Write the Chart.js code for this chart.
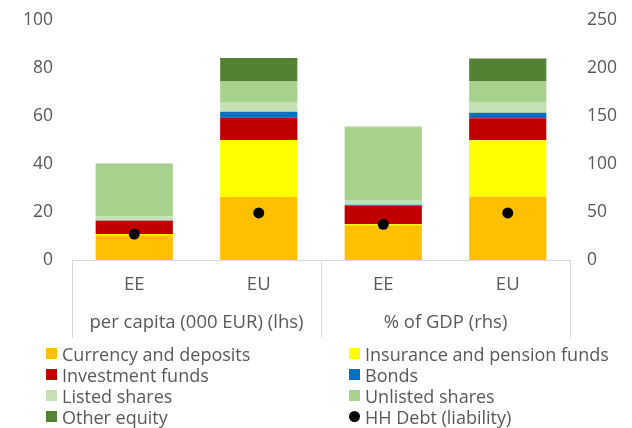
<!DOCTYPE html>
<html>
<head>
<meta charset="utf-8">
<script src="https://cdn.jsdelivr.net/npm/chart.js@4.4.1/dist/chart.umd.min.js"></script>
<style>
  body { margin: 0; background: #fff; }
  #wrap { position: relative; width: 632px; height: 428px; }
  #legend {
    position: absolute; left: 46px; top: 343px;
    display: grid; grid-template-columns: 303px auto;
    font: 18px "Open Sans", sans-serif; color: #595959;
  }
  .item { display: flex; align-items: center; height: 21px; white-space: nowrap; }
  .sw { width: 11px; height: 11px; margin-right: 5px; flex: none; }
  .dot { border-radius: 50%; }
</style>
</head>
<body>
<div id="wrap">
  <canvas id="chart" width="632" height="428"></canvas>
  <div id="legend"></div>
</div>
<script>
// columns: EE, EU (per capita, lhs) then EE, EU (% of GDP, rhs)
const categories = ['EE', 'EU', 'EE', 'EU'];
const groups = ['per capita (000 EUR) (lhs)', '% of GDP (rhs)'];

const currency   = [10.3, 26.2, 36.1, 65.9];
const insurance  = [0.5, 23.8, 1.4, 58.8];
const investment = [5.6, 9.3, 19.1, 22.9];
const bonds      = [0.1, 2.5, 1.0, 5.8];
const listed     = [1.6, 4.0, 4.9, 11.2];
const unlisted   = [21.7, 8.8, 75.7, 21.9];
const otherEq    = [0.3, 9.6, 0.5, 23.5];
const hhDebt     = [10.8, 19.6, 37.2, 49.0];

const leftTicks = [0, 20, 40, 60, 80, 100];
const rightTicks = [0, 50, 100, 150, 200, 250];

const series = [
  { name: 'Currency and deposits', data: currency, color: '#FFC000' },
  { name: 'Insurance and pension funds', data: insurance, color: '#FFFF00' },
  { name: 'Investment funds', data: investment, color: '#C00000' },
  { name: 'Bonds', data: bonds, color: '#0070C0' },
  { name: 'Listed shares', data: listed, color: '#C5E0B4' },
  { name: 'Unlisted shares', data: unlisted, color: '#A9D18E' },
  { name: 'Other equity', data: otherEq, color: '#548235' }
];

const FONT = '"Open Sans", sans-serif';
const TEXT = '#595959';

// lhs values go on y, rhs values on y2
function half(arr, side) {
  return arr.map((v, i) => (side === 'lhs' ? (i < 2 ? v : null) : (i >= 2 ? v : null)));
}

const datasets = [];
['lhs', 'rhs'].forEach(side => {
  series.forEach(s => {
    datasets.push({
      type: 'bar',
      label: s.name,
      data: half(s.data, side),
      backgroundColor: s.color,
      borderWidth: 0,
      stack: 'assets',
      yAxisID: side === 'lhs' ? 'y' : 'y2',
      order: 2
    });
  });
  datasets.push({
    type: 'line',
    label: 'HH Debt (liability)',
    data: half(hhDebt, side),
    showLine: false,
    pointRadius: 5.5,
    pointHoverRadius: 5.5,
    pointBackgroundColor: '#000',
    pointBorderWidth: 0,
    stack: 'debt',
    yAxisID: side === 'lhs' ? 'y' : 'y2',
    order: 1
  });
});

// two-level category axis drawn under the plot
const groupAxis = {
  id: 'groupAxis',
  afterDraw(chart) {
    const { ctx, chartArea, scales: { x } } = chart;
    const b = chartArea.bottom;
    ctx.save();
    ctx.strokeStyle = '#d9d9d9';
    ctx.lineWidth = 1;
    ctx.beginPath();
    ctx.moveTo(chartArea.left, b + 0.5);
    ctx.lineTo(chartArea.right, b + 0.5);
    const mid = (x.getPixelForValue(1) + x.getPixelForValue(2)) / 2;
    [chartArea.left, mid, chartArea.right].forEach(px => {
      ctx.moveTo(Math.round(px) + 0.5, b);
      ctx.lineTo(Math.round(px) + 0.5, b + 78);
    });
    ctx.stroke();

    ctx.fillStyle = TEXT;
    ctx.font = '18.5px ' + FONT;
    ctx.textAlign = 'center';
    ctx.textBaseline = 'middle';
    categories.forEach((c, i) => ctx.fillText(c, x.getPixelForValue(i), b + 25));
    groups.forEach((g, i) => {
      const cx = (x.getPixelForValue(2 * i) + x.getPixelForValue(2 * i + 1)) / 2;
      ctx.fillText(g, cx, b + 63);
    });
    ctx.restore();
  }
};

function fixWidth(w) {
  return s => { s.width = w; s.paddingTop = 0; s.paddingBottom = 0; };
}

new Chart(document.getElementById('chart'), {
  type: 'bar',
  data: { labels: categories, datasets },
  options: {
    responsive: false,
    animation: false,
    events: [],
    categoryPercentage: 1,
    barPercentage: 0.62,
    layout: { padding: { top: 20, left: 0, right: 0, bottom: 0 } },
    scales: {
      x: {
        stacked: true,
        grid: { display: false, drawTicks: false },
        border: { display: false },
        ticks: { display: false },
        afterFit: s => { s.height = 168; }
      },
      y: {
        position: 'left',
        stacked: true,
        min: 0, max: 100,
        grid: { display: false, drawTicks: false },
        border: { display: false },
        afterBuildTicks: s => { s.ticks = leftTicks.map(v => ({ value: v })); },
        ticks: { color: TEXT, font: { family: FONT, size: 17.5 }, padding: 19 },
        afterFit: fixWidth(72)
      },
      y2: {
        position: 'right',
        stacked: true,
        min: 0, max: 250,
        grid: { display: false, drawTicks: false },
        border: { display: false },
        afterBuildTicks: s => { s.ticks = rightTicks.map(v => ({ value: v })); },
        ticks: { color: TEXT, font: { family: FONT, size: 17.5 }, padding: 17 },
        afterFit: fixWidth(62)
      }
    },
    plugins: {
      legend: { display: false },
      tooltip: { enabled: false }
    }
  },
  plugins: [groupAxis]
});

// html legend, two columns, row by row
const legendItems = series.map(s => ({ name: s.name, color: s.color }))
  .concat([{ name: 'HH Debt (liability)', color: '#000', dot: true }]);
document.getElementById('legend').innerHTML = legendItems.map(it =>
  '<div class="item"><span class="sw' + (it.dot ? ' dot' : '') + '" style="background:' +
  it.color + '"></span>' + it.name + '</div>').join('');
</script>
</body>
</html>
